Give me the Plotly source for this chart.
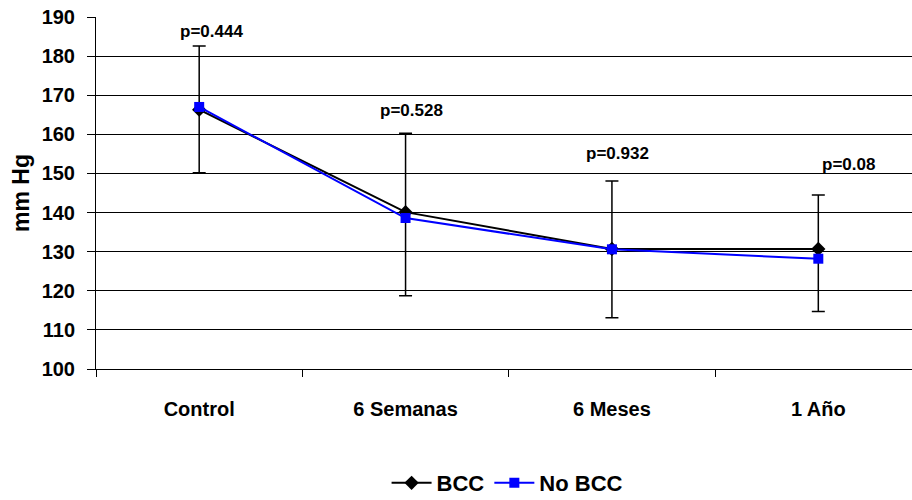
import plotly.graph_objects as go

# Systolic pressure over follow-up, two groups
periods = ["Control", "6 Semanas", "6 Meses", "1 Año"]
bcc = [166.3, 140.1, 130.7, 130.7]
no_bcc = [167.0, 138.6, 130.6, 128.2]

# error bar ends (mmHg)
err_high = [182.6, 160.3, 148.1, 144.5]
err_low = [150.2, 118.7, 113.1, 114.7]

# p-values written above each period
p_labels = ["p=0.444", "p=0.528", "p=0.932", "p=0.08"]
p_heights = [186.2, 166.0, 155.0, 152.3]

FONT = "Liberation Sans, Arial, sans-serif"

fig = go.Figure()

fig.add_trace(go.Scatter(
    x=periods, y=bcc, name="BCC", mode="lines+markers",
    line=dict(color="black", width=2),
    marker=dict(symbol="diamond", size=11, color="black"),
    error_y=dict(
        type="data", symmetric=False,
        array=[h - v for h, v in zip(err_high, bcc)],
        arrayminus=[v - l for v, l in zip(bcc, err_low)],
        color="black", thickness=1.5, width=6.5,
    ),
))

fig.add_trace(go.Scatter(
    x=periods, y=no_bcc, name="No BCC", mode="lines+markers",
    line=dict(color="#0000ff", width=2),
    marker=dict(symbol="square", size=10, color="#0000ff"),
))

x_shifts = [12, 6, 6, 30]
for per, lab, h, dx in zip(periods, p_labels, p_heights, x_shifts):
    fig.add_annotation(
        x=per, y=h, text=f"<b>{lab}</b>", showarrow=False,
        xshift=dx, font=dict(family=FONT, size=17, color="black"),
    )

fig.add_annotation(
    xref="paper", yref="paper", x=-(96 - 21) / 816, y=0.5,
    xanchor="center", yanchor="middle",
    text="<b>mm Hg</b>", textangle=-90, showarrow=False,
    font=dict(family=FONT, size=23, color="black"),
)

fig.update_layout(
    width=912, height=500,
    margin=dict(l=96, r=0, t=17, b=131, autoexpand=False),
    paper_bgcolor="white", plot_bgcolor="white",
    font=dict(family=FONT, color="black"),
    showlegend=True,
    legend=dict(
        orientation="h", x=0.556, xanchor="center", xref="container",
        y=0.034, yanchor="middle", yref="container",
        font=dict(family=FONT, size=22, color="black", weight="bold"),
        itemwidth=40, tracegroupgap=0,
    ),
)

fig.update_xaxes(
    type="category", range=[-0.5, 3.454],
    showline=True, linecolor="black", linewidth=1,
    showgrid=False, zeroline=False,
    ticks="outside", tickson="boundaries", ticklen=7, tickcolor="black",
    ticklabelstandoff=22, tickangle=0,
    tickfont=dict(family=FONT, size=20, color="black", weight="bold"),
)

fig.update_yaxes(
    range=[100, 190], dtick=10, tick0=100,
    showline=True, linecolor="black", linewidth=1,
    showgrid=True, gridcolor="black", gridwidth=1,
    zeroline=False,
    ticks="outside", ticklen=8, tickcolor="black",
    ticklabelstandoff=8,
    tickfont=dict(family=FONT, size=20, color="black", weight="bold"),
)

fig.write_html("out.html")
